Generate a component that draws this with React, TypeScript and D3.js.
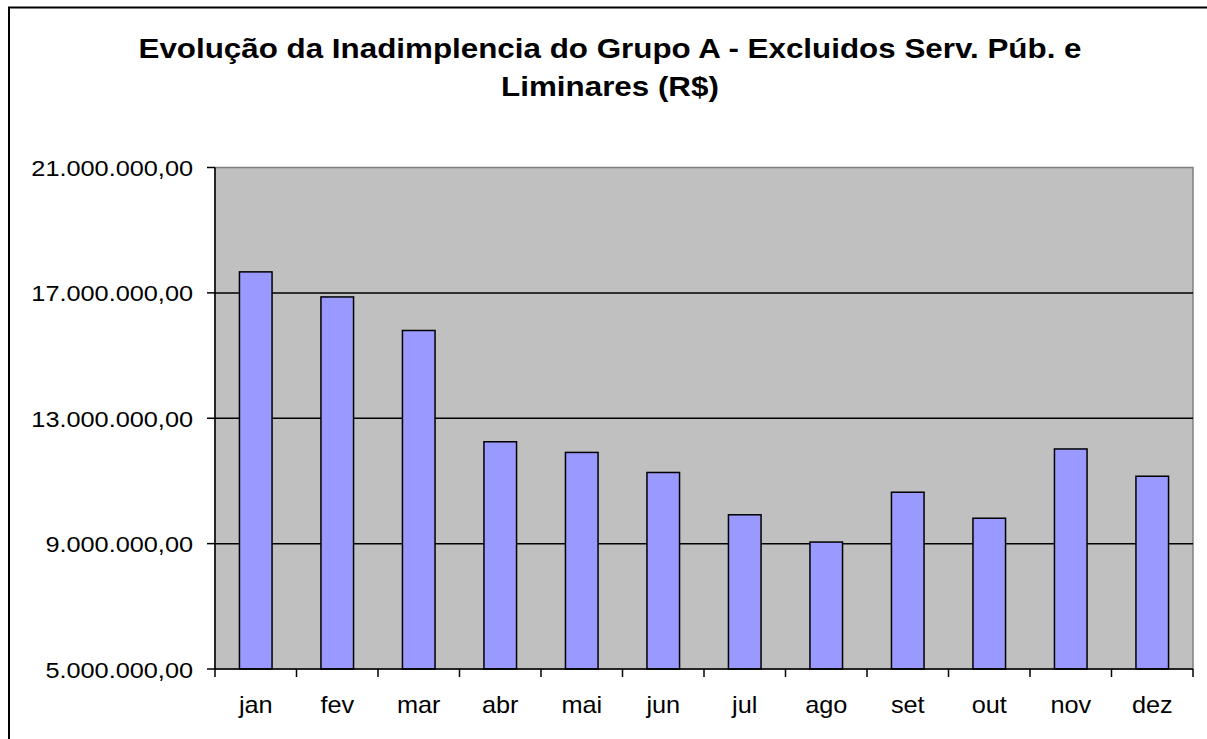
import React, { useEffect, useRef } from "react";
import * as d3 from "d3";

const months = ["jan", "fev", "mar", "abr", "mai", "jun", "jul", "ago", "set", "out", "nov", "dez"];
const values = [17670000, 16870000, 15800000, 12250000, 11910000, 11270000, 9920000, 9050000, 10640000, 9810000, 12020000, 11150000];
const yTicks = [5000000, 9000000, 13000000, 17000000, 21000000];
const titleLines = ["Evolução da Inadimplencia do Grupo A - Excluidos Serv. Púb. e", "Liminares (R$)"];

const fmt = (v: number) => {
  const s = Math.round(v).toString().replace(/\B(?=(\d{3})+(?!\d))/g, ".");
  return s + ",00";
};

export default function App() {
  const ref = useRef<SVGSVGElement>(null);
  useEffect(() => {
    const svg = d3.select(ref.current);
    svg.selectAll("*").remove();
    const W = 1207, H = 739;
    const L = 215, R = 1193, T = 167.5, B = 669;
    const font = "Liberation Sans, Arial, sans-serif";

    const addText = (x: number, y: number, txt: string, size: number, sx: number, anchor: string, bold = false) =>
      svg.append("text").attr("transform", `translate(${x},${y}) scale(${sx},1)`)
        .attr("x", 0).attr("y", 0).attr("text-anchor", anchor).attr("font-family", font)
        .attr("font-weight", bold ? "bold" : "normal").attr("font-size", size).attr("fill", "#000").text(txt);

    svg.append("rect").attr("x", 0).attr("y", 0).attr("width", W).attr("height", H).attr("fill", "#fff");
    svg.append("rect").attr("x", 9).attr("y", 7.5).attr("width", W + 20).attr("height", H + 20)
      .attr("fill", "none").attr("stroke", "#000").attr("stroke-width", 2);

    addText(610, 58, titleLines[0], 28, 1.12, "middle", true);
    addText(610, 96, titleLines[1], 28, 1.12, "middle", true);

    const xb = d3.scaleBand<string>().domain(months).range([L, R]);
    const y = d3.scaleLinear().domain([5000000, 21000000]).range([B, T]);

    svg.append("rect").attr("x", L).attr("y", T).attr("width", R - L).attr("height", B - T)
      .attr("fill", "#C0C0C0").attr("stroke", "#808080").attr("stroke-width", 1.5);

    yTicks.forEach((v) => {
      if (v !== 5000000 && v !== 21000000) {
        svg.append("line").attr("x1", L).attr("x2", R).attr("y1", y(v)).attr("y2", y(v))
          .attr("stroke", "#000").attr("stroke-width", 1.5);
      }
      svg.append("line").attr("x1", L - 8).attr("x2", L).attr("y1", y(v)).attr("y2", y(v))
        .attr("stroke", "#000").attr("stroke-width", 1.5);
      addText(193, y(v) + 8.5, fmt(v), 22, 1.15, "end");
    });

    const bw = xb.bandwidth() / 2.5;
    months.forEach((m, i) => {
      const cx = (xb(m) as number) + xb.bandwidth() / 2;
      svg.append("rect").attr("x", cx - bw / 2).attr("y", y(values[i])).attr("width", bw)
        .attr("height", B - y(values[i])).attr("fill", "#9999FF").attr("stroke", "#000").attr("stroke-width", 1.5);
      addText(cx, 713, m, 23, 1.1, "middle");
    });

    svg.append("line").attr("x1", L).attr("x2", L).attr("y1", T).attr("y2", B).attr("stroke", "#000").attr("stroke-width", 1.5);
    svg.append("line").attr("x1", L).attr("x2", R).attr("y1", B).attr("y2", B).attr("stroke", "#000").attr("stroke-width", 1.5);
    for (let i = 0; i <= months.length; i++) {
      const xx = L + i * xb.step();
      svg.append("line").attr("x1", xx).attr("x2", xx).attr("y1", B).attr("y2", B + 8)
        .attr("stroke", "#000").attr("stroke-width", 1.5);
    }
  }, []);
  return (
    <svg ref={ref} width={1207} height={739} style={{ position: "absolute", left: 0, top: 0, display: "block" }} />
  );
}
